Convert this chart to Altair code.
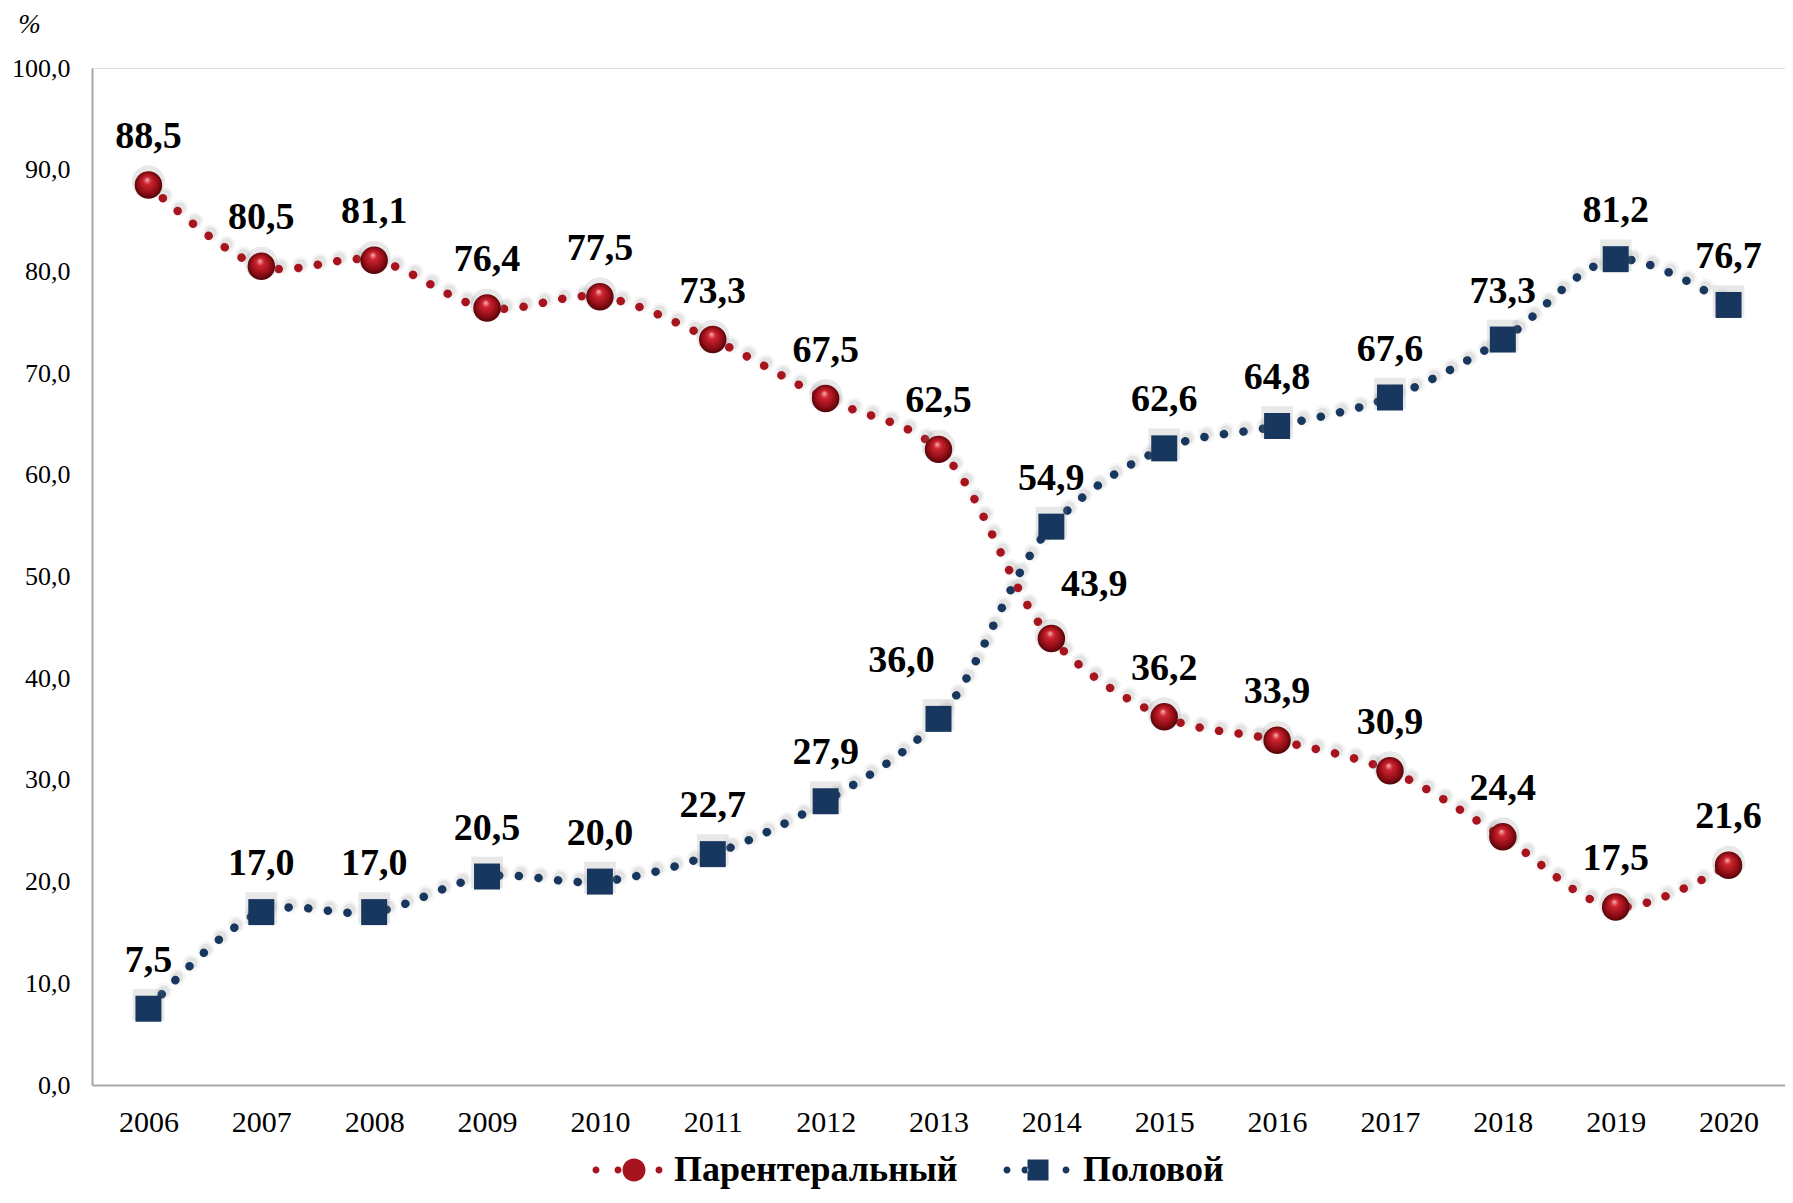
import altair as alt
import pandas as pd

years = [str(y) for y in range(2006, 2021)]
parenteral = [88.5, 80.5, 81.1, 76.4, 77.5, 73.3, 67.5, 62.5, 43.9, 36.2, 33.9, 30.9, 24.4, 17.5, 21.6]
sexual = [7.5, 17.0, 17.0, 20.5, 20.0, 22.7, 27.9, 36.0, 54.9, 62.6, 64.8, 67.6, 73.3, 81.2, 76.7]
series_names = ["Парентеральный", "Половой"]
y_ticks = [0, 10, 20, 30, 40, 50, 60, 70, 80, 90, 100]

RED = "#A8141E"
BLUE = "#17375E"
FONT = "Liberation Serif"

rows = []
for yr, v in zip(years, parenteral):
    rows.append({"year": yr, "series": series_names[0], "value": v})
for yr, v in zip(years, sexual):
    rows.append({"year": yr, "series": series_names[1], "value": v})
df = pd.DataFrame(rows)

label_expr = "replace(format(datum.value, '.1f'), '.', ',')"

base = alt.Chart(df).transform_calculate(label=label_expr)

x_enc = alt.X("year:O", scale=alt.Scale(type="point", padding=0.5),
              axis=alt.Axis(title=None, labelAngle=0, labelFont=FONT, labelFontSize=30,
                            labelColor="black", labelPadding=22, ticks=False,
                            domainColor="#A6A6A6", domainWidth=2))
y_enc = alt.Y("value:Q", scale=alt.Scale(domain=[0, 100], nice=False),
              axis=alt.Axis(values=y_ticks, grid=False, ticks=False, labelFont=FONT,
                            labelFontSize=26, labelColor="black", labelPadding=22,
                            labelExpr=label_expr, domainColor="#A6A6A6", domainWidth=2,
                            title="%", titleAngle=0, titleAlign="center", titleBaseline="middle",
                            titleX=-63, titleY=-44, titleFont=FONT, titleFontSize=27,
                            titleFontWeight="normal", titleFontStyle="italic", titleColor="black"))

DASH = [0.1, 19.6]

def series_layers(name, color):
    sub = base.transform_filter(alt.datum.series == name)
    shadow1 = sub.mark_line(interpolate="catmull-rom", color="#7f7f7f", opacity=0.08,
                            strokeWidth=17, strokeDash=DASH, strokeCap="round",
                            xOffset=2, yOffset=-3).encode(x=x_enc, y=y_enc)
    shadow2 = sub.mark_line(interpolate="catmull-rom", color="#7f7f7f", opacity=0.15,
                            strokeWidth=12, strokeDash=DASH, strokeCap="round",
                            xOffset=2, yOffset=-3).encode(x=x_enc, y=y_enc)
    line = sub.mark_line(interpolate="catmull-rom", color=color, strokeWidth=8.5,
                         strokeDash=DASH, strokeCap="round").encode(x=x_enc, y=y_enc)
    return [shadow1, shadow2, line]

red_layers = series_layers(series_names[0], RED)
blue_layers = series_layers(series_names[1], BLUE)

sphere = alt.RadialGradient(
    gradient="radial", x1=0.45, y1=0.3, r1=0.0, x2=0.5, y2=0.5, r2=0.55,
    stops=[alt.GradientStop(offset=0, color="#f6b8b8"),
           alt.GradientStop(offset=0.25, color="#cf2430"),
           alt.GradientStop(offset=0.7, color="#8c0c14"),
           alt.GradientStop(offset=1, color="#3e0306")])

red_pts = base.transform_filter(alt.datum.series == series_names[0])
blue_pts = base.transform_filter(alt.datum.series == series_names[1])

red_shadow = red_pts.mark_point(shape="circle", filled=True, color="#7f7f7f", opacity=0.18,
                                size=1100, yOffset=-3).encode(x=x_enc, y=y_enc)
blue_shadow = blue_pts.mark_point(shape="square", filled=True, color="#7f7f7f", opacity=0.18,
                                  size=1000, yOffset=-4).encode(x=x_enc, y=y_enc)
red_marks = red_pts.mark_point(shape="circle", filled=True, fill=sphere, opacity=1,
                               size=755).encode(x=x_enc, y=y_enc)
blue_marks = blue_pts.mark_point(shape="square", filled=True, color=BLUE, opacity=1,
                                 size=676).encode(x=x_enc, y=y_enc)

txt_kw = dict(font=FONT, fontSize=38, fontWeight="bold", color="black",
              align="center", baseline="middle")
normal = base.transform_filter(
    "!((datum.series == 'Половой' && datum.year == '2013') || (datum.series == 'Парентеральный' && datum.year == '2014'))"
).mark_text(dy=-48, **txt_kw).encode(x=x_enc, y=y_enc, text="label:N")
lab_b13 = base.transform_filter(
    "datum.series == 'Половой' && datum.year == '2013'"
).mark_text(dx=-37, dy=-58, **txt_kw).encode(x=x_enc, y=y_enc, text="label:N")
lab_r14 = base.transform_filter(
    "datum.series == 'Парентеральный' && datum.year == '2014'"
).mark_text(dx=43, dy=-54, **txt_kw).encode(x=x_enc, y=y_enc, text="label:N")

def circ(cx, r):
    return f"M{cx - r},0A{r},{r},0,1,0,{cx + r},0A{r},{r},0,1,0,{cx - r},0Z"

red_path = circ(0, 0.2875) + "".join(circ(c, 0.0875) for c in (-0.95, -0.4, 0.625))
blue_path = "M-0.3875,-0.2625H0.1375V0.2625H-0.3875Z" + "".join(circ(c, 0.0875) for c in (-0.9, -0.45, 0.575))

leg = dict(title=None, orient="none", legendX=502, legendY=1062,
           direction="horizontal", symbolSize=6400,
           labelFont=FONT, labelFontSize=36, labelFontWeight="bold",
           labelColor="black", labelLimit=600, labelOffset=0,
           columnPadding=45, padding=0, symbolOpacity=1, symbolStrokeWidth=0)

legend_layer = base.transform_filter("false").mark_point(filled=True, opacity=1).encode(
    x=x_enc, y=y_enc,
    color=alt.Color("series:N", scale=alt.Scale(domain=series_names, range=[RED, BLUE]),
                    legend=alt.Legend(**leg)),
    shape=alt.Shape("series:N", scale=alt.Scale(domain=series_names, range=[red_path, blue_path]),
                    legend=alt.Legend(**leg)),
)

chart = alt.layer(
    *blue_layers, *red_layers, red_shadow, blue_shadow, red_marks, blue_marks,
    normal, lab_b13, lab_r14, legend_layer
).properties(
    width=1693, height=1017,
    autosize=alt.AutoSizeParams(type="none"),
    padding={"left": 84, "top": 60, "right": 0, "bottom": 108},
).configure_view(stroke=None).configure(background="white")

chart.save("out.html", embed_options={"renderer": "svg", "actions": False})
